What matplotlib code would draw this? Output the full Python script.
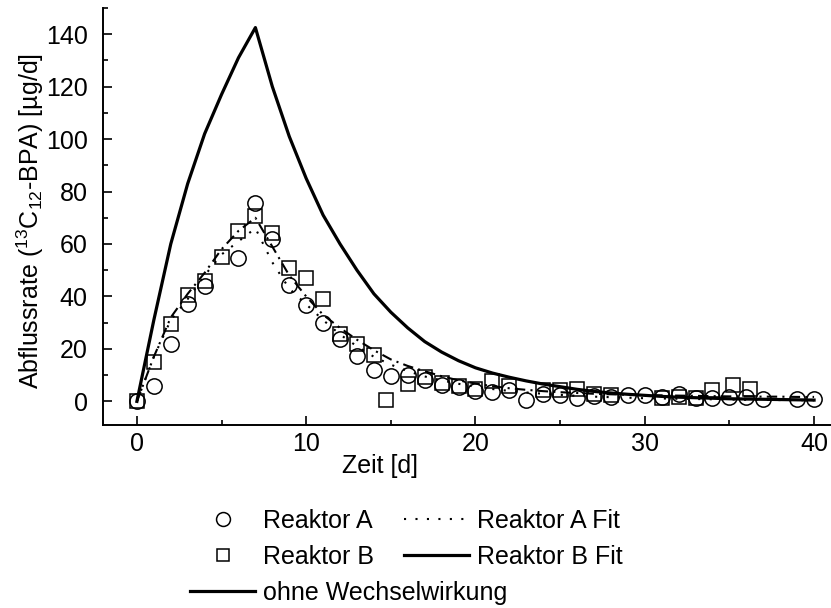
import matplotlib
matplotlib.use('Agg')
import matplotlib.pyplot as plt
from matplotlib.lines import Line2D
from matplotlib.ticker import MultipleLocator

plt.rcParams['font.family'] = ['Liberation Sans', 'DejaVu Sans']
plt.rcParams['mathtext.fontset'] = 'custom'
plt.rcParams['mathtext.rm'] = 'Liberation Sans'
plt.rcParams['mathtext.it'] = 'Liberation Sans:italic'
plt.rcParams['mathtext.default'] = 'regular'

# --- Messwerte Reaktor A (Kreise) ---
tage_A = [0, 1, 2, 3, 4, 6, 7, 8, 9, 10, 11, 12, 13, 14, 15, 16, 17, 18, 19, 20,
          21, 22, 23, 24, 25, 26, 27, 28, 29, 30, 31, 32, 33, 34, 35, 36, 37, 39, 40]
werte_A = [0, 6, 22, 37, 44, 54.6, 75.7, 62, 44.4, 36.6, 30, 23.9, 17.3, 11.8, 9.5,
           9.9, 8, 6.4, 5.5, 3.8, 3.6, 4.4, 0.4, 2.9, 2.3, 1.3, 2.0, 1.7, 2.6, 2.3,
           1.5, 2.9, 1.3, 1.3, 1.7, 1.7, 0.8, 0.8, 0.8]

# --- Messwerte Reaktor B (Quadrate) ---
tage_B = [0, 1, 2, 3, 4, 5, 6, 7, 8, 9, 10, 11, 12, 13, 14, 14.7, 16, 17, 18, 19,
          20, 21, 22, 24, 25, 26, 27, 28, 31, 32, 33, 34, 35.2, 36.2]
werte_B = [0, 15.2, 29.6, 40.6, 46, 55, 65, 70.6, 64, 51, 47, 39, 25.5, 22, 17.5,
           0.6, 6.7, 9.3, 7.1, 5.7, 4.8, 7.6, 5.9, 4.2, 4.2, 4.8, 2.9, 2.6, 1.4,
           1.7, 1.4, 4.2, 6.4, 4.8]

# --- Modellkurven (tägliche Werte) ---
tage_fit = list(range(0, 41))
fit_A = [0, 17, 31, 39, 48, 56, 61, 66, 53, 43, 37, 31, 25.5, 21, 17, 14, 11.5,
         9.5, 8, 6.7, 5.6, 4.7, 4.0, 3.4, 2.9, 2.5, 2.1, 1.8, 1.6, 1.4, 1.2, 1.1,
         1.0, 0.9, 0.8, 0.7, 0.6, 0.55, 0.5, 0.45, 0.4]
fit_B = [0, 17, 32, 41, 49, 58, 65, 70, 59, 48, 40, 33, 28, 23.5, 19.5, 16, 13.5,
         11.5, 9.6, 8, 6.8, 5.8, 5.0, 4.4, 3.9, 3.5, 3.2, 2.9, 2.7, 2.5, 2.4, 2.3,
         2.2, 2.1, 2.0, 1.9, 1.9, 1.8, 1.8, 1.7, 1.7]
ohne_ww = [0, 31, 60, 83, 102, 117, 131, 142.5, 120, 101, 85, 71, 60, 50, 41, 34,
           28, 22.8, 18.8, 15.5, 12.8, 10.8, 9.2, 7.8, 6.6, 5.6, 4.6, 3.8, 3.2, 2.7,
           2.3, 1.9, 1.6, 1.4, 1.2, 1.0, 0.9, 0.8, 0.7, 0.6, 0.5]

fs = 18

fig = plt.figure(figsize=(8.31, 6.08), dpi=100)
ax = fig.add_axes([0.124, 0.301, 0.876, 0.686])

ax.plot(tage_fit, ohne_ww, color='black', lw=2.3, zorder=2)
ax.plot(tage_fit, fit_A, color='black', lw=1.5, ls=(0, (1, 4.5)), zorder=2)
ax.plot(tage_fit, fit_B, color='black', lw=1.5, ls=(0, (5, 2.5, 1, 2.5)), zorder=2)
ax.plot(tage_A, werte_A, 'o', ms=11, mfc='none', mec='black', mew=1.1, zorder=3)
ax.plot(tage_B, werte_B, 's', ms=10, mfc='none', mec='black', mew=1.1, zorder=3)

ax.set_xlim(-2, 41)
ax.set_ylim(-9, 150)
ax.xaxis.set_major_locator(MultipleLocator(10))
ax.xaxis.set_minor_locator(MultipleLocator(5))
ax.set_yticks([0, 20, 40, 60, 80, 100, 120, 140])
ax.yaxis.set_minor_locator(MultipleLocator(10))

for s in ['top', 'right']:
    ax.spines[s].set_visible(False)
for s in ['left', 'bottom']:
    ax.spines[s].set_linewidth(1.4)

ax.tick_params(which='both', direction='in', width=1.2, labelsize=fs)
ax.tick_params(which='major', length=6.5)
ax.tick_params(which='minor', length=3.5)
ax.tick_params(axis='x', pad=5)
ax.tick_params(axis='y', pad=11)

ax.set_xlabel('Zeit [d]', fontsize=fs)
ax.xaxis.set_label_coords(0.38, -0.07)
ax.set_ylabel(r'Abflussrate ($^{13}$C$_{12}$-BPA) [µg/d]', fontsize=fs)
ax.yaxis.set_label_coords(-0.079, 0.49)

# Legende (zwei Teile, wie im Original)
h_A = Line2D([], [], ls='none', marker='o', ms=10, mfc='none', mec='black', mew=1.1)
h_B = Line2D([], [], ls='none', marker='s', ms=9, mfc='none', mec='black', mew=1.1)
h_fA = Line2D([], [], color='black', lw=1.5, ls=(0, (1, 4.5)))
h_fB = Line2D([], [], color='black', lw=2.3)
h_ww = Line2D([], [], color='black', lw=2.3)

leg_kw = dict(frameon=False, fontsize=fs, handlelength=2.6, handletextpad=0.32,
              columnspacing=1.2, labelspacing=0.48, borderpad=0, borderaxespad=0,
              loc='upper left', bbox_transform=fig.transFigure)
leg1 = fig.legend([h_A, h_B, h_fA, h_fB],
                  ['Reaktor A', 'Reaktor B', 'Reaktor A Fit', 'Reaktor B Fit'],
                  ncol=2, bbox_to_anchor=(190 / 831, 1 - 509 / 608), **leg_kw)
leg2 = fig.legend([h_ww], ['ohne Wechselwirkung'],
                  bbox_to_anchor=(190 / 831, 1 - 581 / 608), **leg_kw)

fig.savefig('out.png', dpi=100)
plt.close(fig)
